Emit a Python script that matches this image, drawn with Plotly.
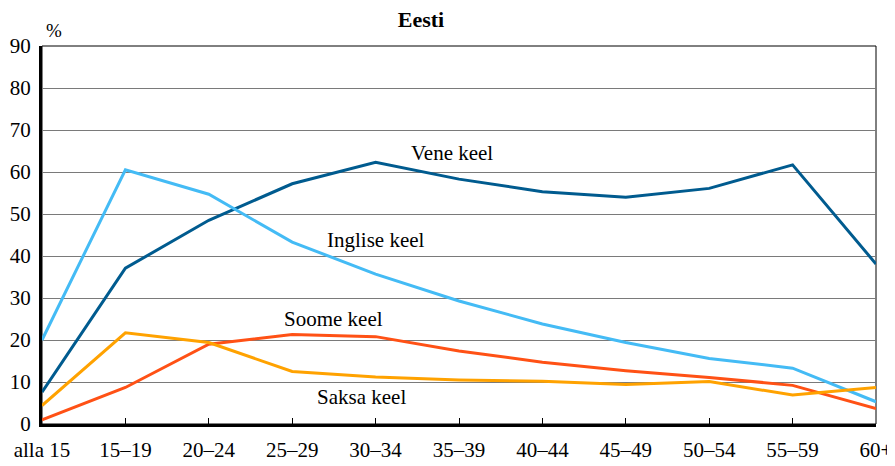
import plotly.graph_objects as go

categories = ["alla 15", "15–19", "20–24", "25–29", "30–34", "35–39",
              "40–44", "45–49", "50–54", "55–59", "60+"]
vene = [7.6, 37.1, 48.5, 57.2, 62.3, 58.3, 55.3, 54.0, 56.1, 61.7, 38.1]
inglise = [20.0, 60.5, 54.7, 43.3, 35.7, 29.3, 23.8, 19.4, 15.6, 13.3, 5.3]
soome = [1.0, 8.7, 19.0, 21.3, 20.8, 17.4, 14.7, 12.7, 11.1, 9.2, 3.7]
saksa = [4.4, 21.7, 19.4, 12.5, 11.2, 10.5, 10.2, 9.4, 10.1, 6.9, 8.7]
y_ticks = [0, 10, 20, 30, 40, 50, 60, 70, 80, 90]

series = [
    ("Vene keel", vene, "#005B8F"),
    ("Inglise keel", inglise, "#44BBF5"),
    ("Soome keel", soome, "#FF5115"),
    ("Saksa keel", saksa, "#FFA200"),
]

x_idx = list(range(len(categories)))
font = "Liberation Serif"

W, H = 887, 458  # page body adds an 8px offset

fig = go.Figure()
for name, vals, col in series:
    fig.add_trace(go.Scatter(x=x_idx, y=vals, mode="lines", name=name,
                             line=dict(color=col, width=3), cliponaxis=False))

# series labels
labels = [
    ("Vene keel", 4.92, 64.5),
    ("Inglise keel", 4.0, 43.8),
    ("Soome keel", 3.49, 24.9),
    ("Saksa keel", 3.83, 6.5),
]
for txt, xv, yv in labels:
    fig.add_annotation(x=xv, y=yv, text=txt, showarrow=False,
                       font=dict(family=font, size=21, color="black"))

fig.add_annotation(xref="paper", yref="paper", x=0.0138, xanchor="center",
                   y=1.0, yanchor="middle", yshift=16, text="%", showarrow=False,
                   font=dict(family=font, size=19, color="black"))

# thin frame on top/right
fig.add_shape(type="rect", xref="paper", yref="paper", x0=0, y0=0, x1=1, y1=1,
              line=dict(color="black", width=1), layer="below")

fig.update_layout(
    width=W, height=H,
    margin=dict(l=34, r=19, t=38, b=42, autoexpand=False),
    paper_bgcolor="white", plot_bgcolor="white",
    showlegend=False,
    title=dict(text="<b>Eesti</b>", x=413 / W, xanchor="center",
               yref="container", y=1 - 11 / H, yanchor="middle",
               font=dict(family=font, size=22, color="black")),
    font=dict(family=font, size=21, color="black"),
)
fig.update_xaxes(
    tickmode="array", tickvals=x_idx, ticktext=categories,
    range=[0, len(categories) - 1], automargin=False,
    showgrid=False, zeroline=False,
    showline=True, linecolor="black", linewidth=3,
    ticks="inside", ticklen=6, tickcolor="black", tickwidth=1,
    ticklabelstandoff=5,
    tickfont=dict(family=font, size=21, color="black"),
)
fig.update_yaxes(
    tickmode="array", tickvals=y_ticks, range=[0, 90], automargin=False,
    showgrid=True, gridcolor="#7a7a7a", gridwidth=1,
    zeroline=False,
    showline=True, linecolor="black", linewidth=3,
    ticks="", ticklabelstandoff=4,
    tickfont=dict(family=font, size=21, color="black"),
)

fig.write_html("out.html")
